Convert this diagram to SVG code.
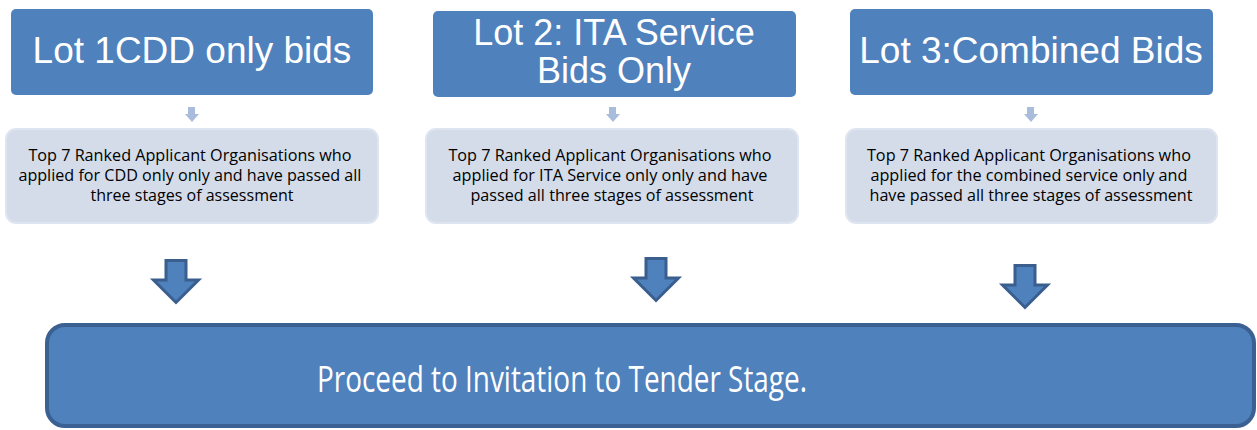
<svg xmlns="http://www.w3.org/2000/svg" width="1257" height="430" viewBox="0 0 1257 430">
  <defs>
    <style>
      .lot { fill: #4F81BD; }
      .lot-text { font-family: "Liberation Sans", Arial, sans-serif; font-size: 37px; fill: #FFFFFF; text-anchor: middle; }
      .detail { fill: #D4DCEA; stroke: #DFE5F0; stroke-width: 2; }
      .detail-text { font-family: "Open Sans", "Noto Sans", sans-serif; font-size: 16px; fill: #000000; text-anchor: middle; }
      .step { fill: #A9BCDB; }
      .flow { fill: #4F81BD; stroke: #3A5E8E; stroke-width: 3; stroke-linejoin: miter; }
      .final { fill: #4F81BD; stroke: #3B6092; stroke-width: 4; }
      .final-text { font-family: "Open Sans", "Noto Sans", sans-serif; font-size: 37px; fill: #FFFFFF; text-anchor: middle; }
    </style>
    <!-- small step arrow, centred on x=0, top at y=0 -->
    <path id="step-arrow" d="M-4,0 H3 V7 H7 L0,15 L-7,7 H-4 Z"/>
    <!-- large block arrow, centred on x=0, top at y=0 -->
    <path id="flow-arrow" d="M-10,1.5 H10 V21 H22.5 L0,43.5 L-22.5,21 H-10 Z"/>
  </defs>

  <rect width="1257" height="430" fill="#FFFFFF"/>

  <!-- Lot 1 -->
  <g id="lot1">
    <rect class="lot" x="11" y="9" width="362" height="86" rx="5"/>
    <text class="lot-text" x="192" y="63">Lot 1CDD only bids</text>
  </g>
  <g id="lot1-detail">
    <rect class="detail" x="6" y="129" width="372" height="94" rx="10"/>
    <text class="detail-text">
      <tspan x="192" y="161" textLength="323" lengthAdjust="spacingAndGlyphs">Top 7 Ranked Applicant Organisations who</tspan>
      <tspan x="192" y="181" textLength="343" lengthAdjust="spacingAndGlyphs">applied for CDD only only and have passed all</tspan>
      <tspan x="192" y="201" textLength="203" lengthAdjust="spacingAndGlyphs">three stages of assessment</tspan>
    </text>
  </g>

  <!-- Lot 2 -->
  <g id="lot2">
    <rect class="lot" x="433" y="11" width="363" height="86" rx="5"/>
    <text class="lot-text" x="614" y="45" style="font-size:36px">Lot 2: ITA Service</text>
    <text class="lot-text" x="614" y="83" style="font-size:36px">Bids Only</text>
  </g>
  <g id="lot2-detail">
    <rect class="detail" x="426" y="129" width="372" height="94" rx="10"/>
    <text class="detail-text">
      <tspan x="612" y="161" textLength="323" lengthAdjust="spacingAndGlyphs">Top 7 Ranked Applicant Organisations who</tspan>
      <tspan x="612" y="181" textLength="315" lengthAdjust="spacingAndGlyphs">applied for ITA Service only only and have</tspan>
      <tspan x="612" y="201" textLength="283" lengthAdjust="spacingAndGlyphs">passed all three stages of assessment</tspan>
    </text>
  </g>

  <!-- Lot 3 -->
  <g id="lot3">
    <rect class="lot" x="850" y="9" width="363" height="86" rx="5"/>
    <text class="lot-text" x="1031" y="63">Lot 3:Combined Bids</text>
  </g>
  <g id="lot3-detail">
    <rect class="detail" x="846" y="129" width="371" height="94" rx="10"/>
    <text class="detail-text">
      <tspan x="1031" y="161" textLength="324" lengthAdjust="spacingAndGlyphs">Top 7 Ranked Applicant Organisations who</tspan>
      <tspan x="1031" y="181" textLength="317" lengthAdjust="spacingAndGlyphs">applied for the combined service only and</tspan>
      <tspan x="1031" y="201" textLength="323" lengthAdjust="spacingAndGlyphs">have passed all three stages of assessment</tspan>
    </text>
  </g>

  <!-- Final stage -->
  <g id="final">
    <rect class="final" x="47" y="325" width="1207" height="101" rx="18"/>
    <text class="final-text" x="562" y="392" textLength="490" lengthAdjust="spacingAndGlyphs">Proceed to Invitation to Tender Stage.</text>
  </g>

  <!-- Connectors -->
  <g id="connectors">
    <use href="#step-arrow" class="step" x="192" y="107"/>
    <use href="#step-arrow" class="step" x="613" y="107"/>
    <use href="#step-arrow" class="step" x="1031" y="107"/>
    <use href="#flow-arrow" class="flow" x="176" y="259"/>
    <use href="#flow-arrow" class="flow" x="656" y="257"/>
    <use href="#flow-arrow" class="flow" x="1025" y="264"/>
  </g>
</svg>
